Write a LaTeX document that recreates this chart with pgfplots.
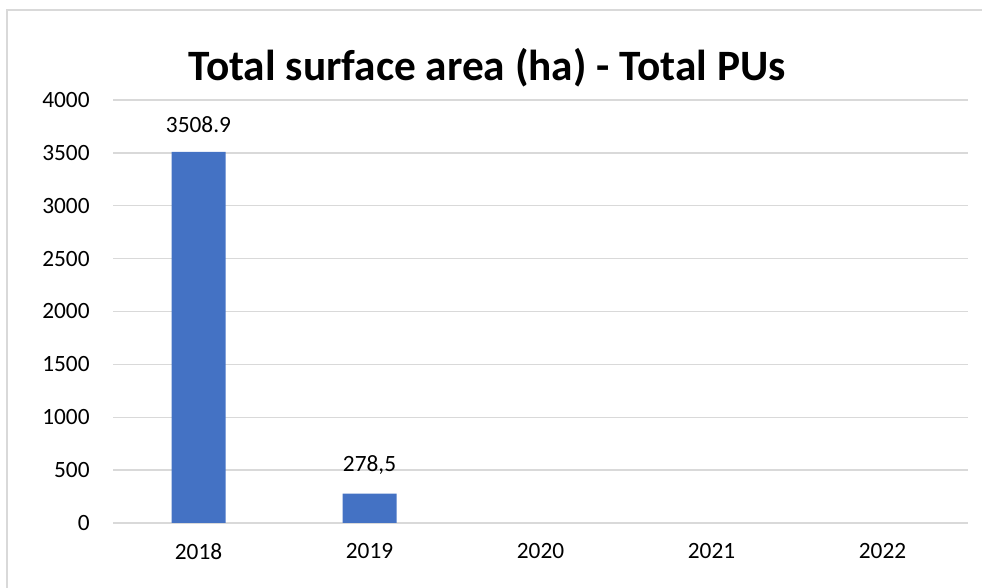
\documentclass[border=0pt]{standalone}
\usepackage{pgfplots}
\pgfplotsset{compat=1.18}
\usepackage{fontspec}
\setmainfont{Carlito}
\definecolor{barblue}{HTML}{4472C4}
\definecolor{gridgray}{HTML}{D9D9D9}
\begin{document}
\begin{tikzpicture}[x=0.75pt,y=0.75pt]
% chart frame (only top and left edges visible)
\draw[gridgray, line width=1.5pt] (7,0) -- (7,578) -- (982,578);
\node[font=\fontsize{32.5}{38}\selectfont\bfseries] at (487,520) {Total surface area (ha) - Total PUs};
\begin{axis}[
    at={(84.75pt,48.75pt)}, anchor=south west,
    scale only axis,
    width=641.25pt, height=317.25pt,
    xmin=-0.5, xmax=4.5,
    ymin=0, ymax=4000,
    ytick={0,500,...,4000},
    xtick={0,1,2,3,4},
    xticklabels={2018,2019,2020,2021,2022},
    axis line style={draw=none},
    ymajorgrids,
    grid style={gridgray, line width=1pt},
    major tick length=0pt,
    tick label style={font=\fontsize{17.5}{21}\selectfont},
    yticklabel style={xshift=-14pt},
    xticklabel style={yshift=-12pt},
    /pgf/number format/assume math mode=true,
    scaled y ticks=false,
    yticklabel={\pgfmathprintnumber[fixed,precision=0,1000 sep={}]{\tick}},
    ybar, bar width=40.5pt,
    point meta=explicit symbolic,
    nodes near coords,
    nodes near coords style={font=\fontsize{17.5}{21}\selectfont, anchor=south, inner sep=0pt, yshift=14pt},
]
\addplot[fill=barblue, draw=none] table[x=x, y=y, meta=lab] {
x y lab
0 3508.9 3508.9
1 278.5 278,5
};
\end{axis}
\pgfresetboundingbox
\path (0,0) rectangle (982,588);
\end{tikzpicture}
\end{document}
